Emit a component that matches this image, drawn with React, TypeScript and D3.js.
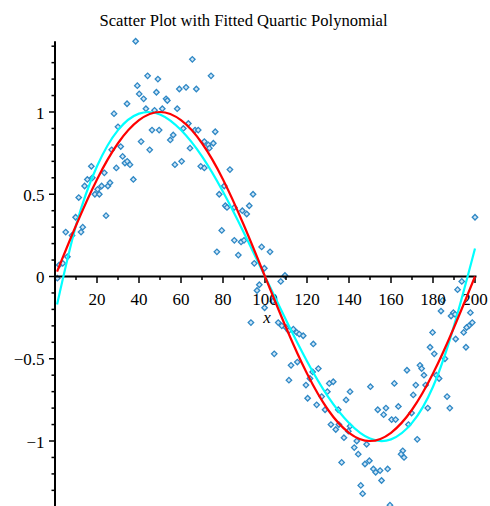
import React from "react";
import * as d3 from "d3";

const W = 490;
const H = 506;

const titleText = "Scatter Plot with Fitted Quartic Polynomial";
const xAxisLabel = "x";
const xTickValues = [20, 40, 60, 80, 100, 120, 140, 160, 180, 200];
const yTickValues = [-1, -0.5, 0, 0.5, 1];
const yTickLabels = ["\u22121", "\u22120.5", "0", "0.5", "1"];

// scatter data (x, y)
const scatterPoints: [number, number][] = [
  [1.1, -0.01], [2, 0.07], [3.7, 0.08], [5.9, 0.12], [8.1, 0.25], [5.1, 0.27], [12.4, 0.27], [13.2, 0.3],
  [9.8, 0.36], [24.3, 0.37], [11.3, 0.48], [19, 0.5], [21.1, 0.5], [20.3, 0.53], [22.2, 0.55], [25.2, 0.55],
  [14.1, 0.55], [26.2, 0.57], [15.4, 0.59], [17.8, 0.6], [37.3, 0.59], [23.5, 0.63], [17.3, 0.67], [29.2, 0.66],
  [33.3, 0.69], [35.7, 0.68], [34.4, 0.7], [32.2, 0.73], [27, 0.77], [31.3, 0.79], [45.1, 0.77], [41, 0.82],
  [46.2, 0.89], [49.6, 0.89], [30, 0.91], [28.1, 0.99], [43.3, 1.02], [47.4, 1.01], [34.3, 1.05], [42.2, 1.08],
  [40.1, 1.11], [48.3, 1.12], [39.2, 1.16], [44.1, 1.22], [49, 1.2], [38.4, 1.43],
  [65.4, 1.32], [74.3, 1.22], [59.2, 1.14], [62.4, 1.15], [67.3, 1.14], [52.9, 1.08], [53.5, 1.07], [51.1, 1.02],
  [58.2, 1.02], [63.5, 0.93], [61.1, 0.9], [66.7, 0.89], [68.2, 0.89], [76.3, 0.88], [56.3, 0.86], [54.9, 0.83],
  [71.1, 0.82], [73, 0.8], [75.4, 0.81], [73.5, 0.78], [64.3, 0.78], [57.1, 0.68], [60.3, 0.7], [69.4, 0.67],
  [71.1, 0.66], [83.3, 0.65], [80.6, 0.55], [78.2, 0.5], [94.3, 0.5],
  [81.1, 0.43], [81.9, 0.42], [85.4, 0.42], [89.2, 0.4], [91.3, 0.38], [92.5, 0.43], [79.4, 0.28], [85.4, 0.22],
  [88.6, 0.21], [90, 0.22], [98.4, 0.18], [77.1, 0.15], [87.3, 0.13], [94.9, 0.08], [97.3, -0.05], [96.2, -0.085],
  [93.3, -0.28], [99.8, -0.19],
  [102.4, 0.15], [99.7, 0.05], [109.5, 0.006], [107.5, -0.03], [103.7, -0.15], [106.3, -0.28], [108, -0.3],
  [110, -0.31], [111.3, -0.33], [113.5, -0.32], [115.1, -0.34], [116.3, -0.35], [118.2, -0.36], [123, -0.41],
  [104.4, -0.47],
  [112.4, -0.54], [115.4, -0.52], [125.4, -0.56], [122.7, -0.58], [111.4, -0.63], [119.5, -0.66], [121.4, -0.62],
  [130.6, -0.65], [132.5, -0.64], [140.5, -0.7], [129.7, -0.7], [150.2, -0.67], [120.3, -0.74], [127, -0.73],
  [138.6, -0.75], [124.6, -0.78], [128.6, -0.81], [134.9, -0.81], [131.4, -0.9], [133.7, -0.93], [135.2, -0.9],
  [140.5, -0.91], [139.7, -0.94], [137.6, -0.98], [143.7, -1.0], [148.4, -1.02], [142.5, -1.04], [144.4, -1.08],
  [136.5, -1.13], [147.6, -1.14], [149.7, -1.12], [145.6, -1.27], [146.5, -1.32],
  [173.8, -0.54], [174.6, -0.56], [167.6, -0.57], [185.7, -0.5], [181.6, -0.6], [182.9, -0.62], [175.7, -0.6],
  [161.6, -0.65], [171.8, -0.66], [176.5, -0.66], [170.6, -0.72], [186.7, -0.73], [188, -0.8], [177.5, -0.8],
  [163.5, -0.79], [157.6, -0.8], [153.7, -0.81], [156.5, -0.84], [169.8, -0.83], [160.3, -0.87], [162.2, -0.87],
  [168.3, -0.9], [172.5, -0.99], [165.6, -1.06], [164.8, -1.08], [166.2, -1.1], [158.4, -1.17], [151.6, -1.17],
  [152.7, -1.19], [154.8, -1.18], [155.5, -1.24], [159.5, -1.39],
  [200, 0.36], [193.7, -0.03], [191.7, -0.08], [184.6, -0.145], [183.8, -0.21], [189.7, -0.22], [188.6, -0.24],
  [190.5, -0.23], [197.8, -0.22], [198.7, -0.28], [197.1, -0.3], [196, -0.31], [194.6, -0.34], [179.8, -0.34],
  [190.8, -0.38], [195.7, -0.43], [178.6, -0.43], [180.6, -0.47],
];

// curves sampled at these x
const curveX = [1, 10, 20, 30, 40, 50, 60, 70, 80, 90, 100, 110, 120, 130, 140, 150, 160, 170, 180, 190, 200];
const sineValues = [0.03, 0.31, 0.59, 0.81, 0.95, 1.0, 0.95, 0.81, 0.59, 0.31, 0, -0.31, -0.59, -0.81, -0.95, -1.0, -0.95, -0.81, -0.59, -0.31, 0];
const quarticValues = [-0.17, 0.31, 0.67, 0.89, 0.99, 0.985, 0.89, 0.73, 0.515, 0.265, 0, -0.265, -0.515, -0.73, -0.89, -0.985, -0.99, -0.89, -0.67, -0.3, 0.17];

const FONT = "'Liberation Serif', 'Times New Roman', serif";

export default function App() {
  const x = d3.scaleLinear().domain([0, 200]).range([55, 475]);
  const y = d3.scaleLinear().domain([0, 1]).range([276.5, 112]);

  const line = d3
    .line<number>()
    .x((_, i) => x(curveX[i]))
    .y((d) => y(d))
    .curve(d3.curveNatural);

  const minorX = d3.range(10, 201, 10);
  const minorY = d3.range(-14, 15).map((v) => v / 10);
  const diamond = d3.symbol().type(d3.symbolSquare).size(15)();

  return (
    <svg width={W} height={H} style={{ position: "absolute", left: 0, top: 0, background: "#fff" }} fontFamily={FONT}>
      <text x={243.5} y={26} textAnchor="middle" fontSize={16.6} fill="#000">
        {titleText}
      </text>
      {/* scatter */}
      <g>
        {scatterPoints.map(([px, py], i) => (
          <path
            key={i}
            d={diamond as string}
            transform={`translate(${x(px)},${y(py)}) rotate(45)`}
            fill="#cfe6f7"
            stroke="#2f88c5"
            strokeWidth={1.3}
          />
        ))}
      </g>
      {/* axes */}
      <g stroke="#000">
        <line x1={x(0)} x2={x(0)} y1={y(1.43)} y2={y(-1.42)} strokeWidth={2} />
        <line x1={x(0)} x2={x(200) + 1.5} y1={y(0)} y2={y(0)} strokeWidth={2} />
        {minorY.map((v) => (
          <line
            key={"yt" + v}
            x1={x(0) - (Math.abs(Math.round(v * 10)) % 5 === 0 ? 6 : 3.5)}
            x2={x(0)}
            y1={y(v)}
            y2={y(v)}
            strokeWidth={1.5}
          />
        ))}
        {minorX.map((v) => (
          <line key={"xt" + v} x1={x(v)} x2={x(v)} y1={y(0)} y2={y(0) + (v % 20 === 0 ? 6.5 : 3.5)} strokeWidth={1.5} />
        ))}
      </g>
      <g fontSize={17} fill="#000">
        {xTickValues.map((v) => (
          <text key={"xl" + v} x={x(v)} y={305} textAnchor="middle">
            {v}
          </text>
        ))}
        {yTickValues.map((v, i) => (
          <text key={"yl" + v} x={44.5} y={y(v) + 6.5} textAnchor="end">
            {yTickLabels[i]}
          </text>
        ))}
        <text x={267} y={323} textAnchor="middle" fontStyle="italic">
          {xAxisLabel}
        </text>
      </g>
      {/* curves */}
      <path d={line(quarticValues) as string} fill="none" stroke="#00ffff" strokeWidth={2.2} />
      <path d={line(sineValues) as string} fill="none" stroke="#ff0000" strokeWidth={2.2} />
    </svg>
  );
}
